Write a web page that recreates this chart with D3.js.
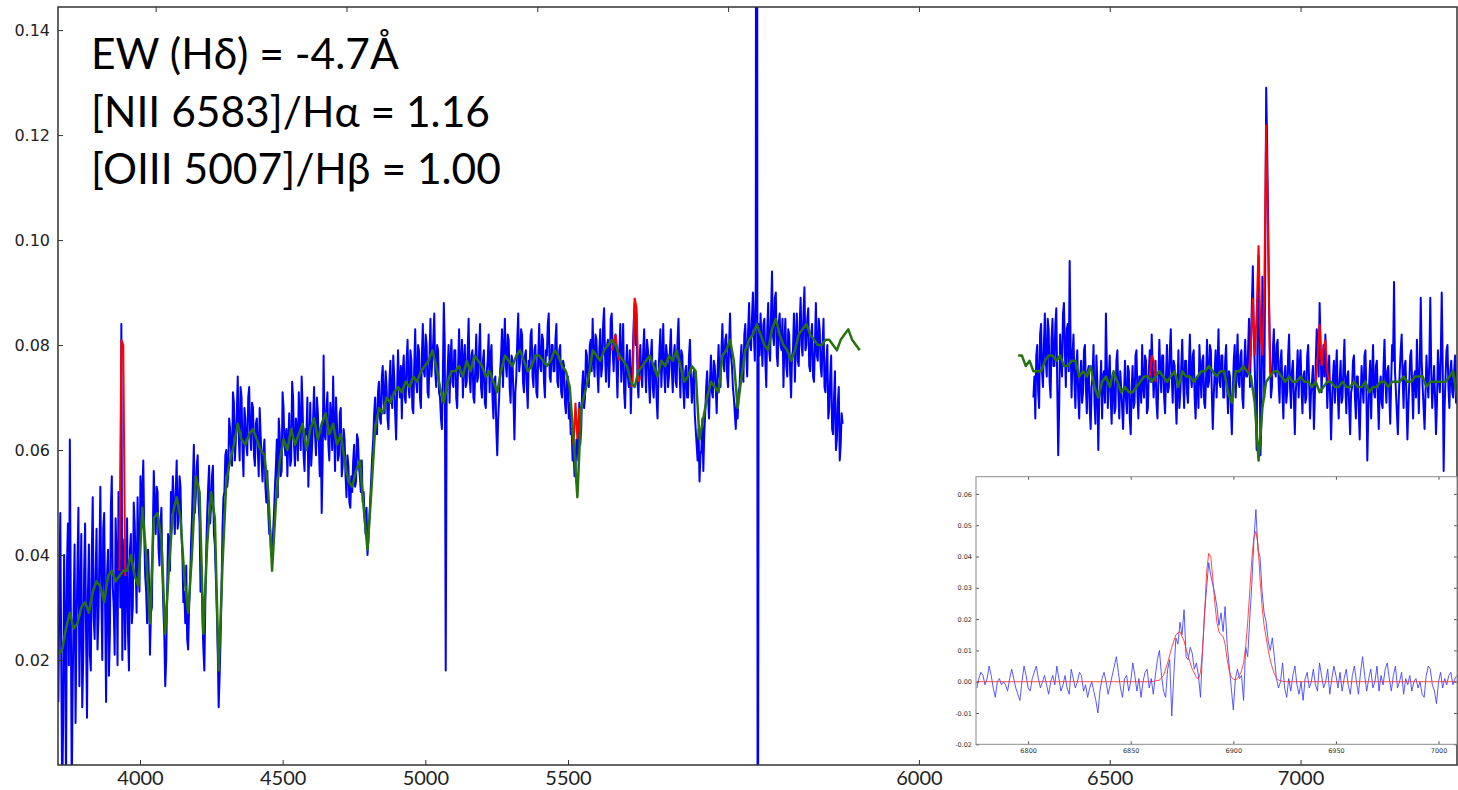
<!DOCTYPE html>
<html>
<head>
<meta charset="utf-8">
<script src="https://cdn.jsdelivr.net/npm/d3@7"></script>
<style>
  body { margin: 0; background: #fff; }
  svg { display: block; }
</style>
</head>
<body>
<div id="chart"></div>
<script>
// flux values are in units of 1e-3 (0.08 -> 80)

// observed spectrum, blue side (3745 .. 5800 A, 2.5 A grid)
const blueStartA = 3745, blueStep = 2.5;
const blueA = [
  12,33,48,20,-6,8,40,27,-4,38,46,19,62,31,-5,15,30,42,8,26,38,49,15,30,44,11,20,37,46,25,9,33,42,21,18,40,51,28,24,36,
  45,22,28,40,53,33,20,45,48,30,12,36,41,17,25,49,55,34,30,21,47,39,19,52,44,30,84,20,36,43,22,34,47,25,18,41,44,27,30,50,
  46,38,29,51,40,33,55,47,52,58,44,36,33,27,41,35,21,29,30,44,56,49,44,53,52,41,38,46,49,37,30,25,15,20,33,44,42,37,52,48,
  55,49,44,52,58,45,47,55,53,44,40,31,33,27,38,24,22,30,34,42,47,54,61,48,51,57,59,50,46,33,38,28,22,18,31,41,48,53,57,46,
  49,55,57,44,42,36,30,22,11,17,24,33,45,51,52,59,60,53,55,66,64,60,57,71,69,58,62,67,74,63,58,72,70,60,55,68,66,61,59,70,
  72,63,60,69,68,59,57,65,66,60,55,68,63,58,54,60,62,53,50,56,48,44,45,40,41,44,48,53,57,62,51,66,63,55,56,71,68,61,59,64,
  55,62,67,57,58,73,70,61,57,66,64,58,71,65,60,74,68,59,56,64,63,70,53,60,69,57,61,66,72,63,59,70,67,61,55,64,48,58,78,63,
  62,68,71,61,58,69,66,60,74,64,56,70,65,58,59,67,68,55,57,64,62,55,51,59,57,50,49,55,52,58,61,53,54,63,62,57,55,52,58,50,
  52,47,44,49,40,43,47,51,55,59,62,67,70,64,63,71,73,66,65,74,76,69,67,75,72,66,64,73,77,70,68,78,74,67,62,71,79,73,70,76,
  66,75,78,70,69,77,81,72,70,79,77,68,67,76,83,73,71,80,79,70,68,78,84,75,74,82,80,71,70,78,85,74,77,81,86,75,72,80,79,71,
  70,66,64,74,88,80,18,71,75,80,69,77,81,73,72,79,79,70,68,76,83,75,74,81,70,77,80,72,73,79,85,74,71,78,79,70,69,76,82,73,
  74,79,84,72,70,77,79,69,68,75,77,82,71,78,80,70,66,73,74,64,59,66,70,75,78,83,72,79,85,76,74,82,81,72,69,78,77,70,62,71,
  74,81,86,75,77,83,82,73,71,78,79,72,68,77,76,82,83,74,72,79,80,71,70,78,84,76,75,82,81,73,70,79,78,84,86,74,73,80,80,75,
  75,81,84,73,72,79,80,71,70,77,76,69,67,73,74,66,69,63,64,58,60,55,56,62,62,58,69,61,64,72,75,68,70,79,78,73,72,80,81,75,
  85,77,74,82,81,75,71,79,83,74,76,84,87,78,73,80,81,72,77,85,86,79,75,81,82,76,70,78,79,84,73,77,84,71,68,76,80,74,72,79,
  67,74,78,84,88,80,86,73,70,77,80,74,72,79,83,76,71,81,79,73,69,78,81,72,70,76,77,70,66,74,79,83,72,77,84,75,71,80,78,72,
  74,79,83,75,71,78,80,73,72,81,85,76,70,79,78,72,68,75,76,70,70,78,81,74,69,73,75,67,64,61,58,64,54,59,60,66,56,63,67,72,
  75,70,66,73,78,71,70,77,76,72,67,75,80,74,72,79,84,77,75,81,82,74,72,80,86,78,76,72,70,67,64,69,66,71,72,77,80,75,73,82,
  84,78,74,83,88,80,79,85,90,82,77,92,400,-80,84,78,86,81,76,84,85,77,72,83,88,79,77,86,94,82,80,89,90,78,76,84,86,80,79,85,
  72,80,85,76,74,83,82,75,70,78,79,86,73,81,86,77,76,84,89,80,78,86,91,79,80,85,87,76,75,82,84,74,73,80,88,78,77,85,83,76,
  74,80,85,72,71,77,80,66,68,74,78,64,63,70,75,60,62,69,72,58,61,67,65
];

// observed spectrum, red side (6300 .. 7410 A, 2.5 A grid)
const blueStartB = 6300;
const blueB = [
  70,74,66,78,80,71,68,82,84,75,72,80,86,77,74,85,83,73,70,81,85,76,76,84,87,72,59,68,82,77,74,86,88,79,72,83,84,75,96,80,
  70,78,82,73,68,76,79,70,66,74,77,69,71,79,80,72,67,75,76,68,64,72,74,80,69,65,78,73,60,70,72,77,66,74,75,69,86,76,68,74,
  78,70,65,73,74,67,68,77,79,71,66,75,72,68,64,71,77,70,67,76,75,66,63,72,76,68,69,78,79,71,66,74,74,69,80,72,70,78,77,67,
  68,75,79,73,82,76,70,74,77,69,66,73,81,75,71,78,78,70,67,74,80,71,72,79,83,74,69,77,76,70,65,72,79,68,71,76,81,73,68,77,
  77,71,69,76,82,74,72,78,79,70,66,73,74,68,80,75,70,77,78,69,68,74,81,72,73,80,79,71,64,70,75,79,70,76,83,73,72,78,78,70,
  70,77,80,72,67,75,74,68,63,71,77,80,70,76,82,73,72,78,79,70,68,76,81,74,74,79,85,72,80,88,95,82,76,68,60,85,97,80,59,66,
  93,84,70,96,129,118,104,88,78,70,72,79,83,75,74,80,81,73,69,77,79,71,66,74,76,69,71,78,82,72,68,75,77,70,63,71,74,79,70,76,
  79,72,67,74,75,69,70,78,80,73,66,71,73,76,64,70,77,83,79,74,88,80,71,76,80,74,82,77,68,73,78,70,62,69,74,77,69,75,79,71,
  66,73,77,69,70,76,81,72,67,74,75,68,63,71,72,77,78,70,66,74,74,68,62,70,76,72,69,78,79,71,58,67,73,77,66,74,80,71,70,76,
  77,70,64,72,74,69,68,76,81,73,69,75,76,71,65,73,80,77,92,75,71,67,63,70,75,79,82,74,68,76,77,70,62,68,73,78,79,72,66,74,
  75,70,81,74,67,76,89,77,72,68,64,71,78,73,70,77,89,75,68,72,76,70,63,69,79,74,71,78,90,76,56,68,74,79,80,72,68,75,77,71,
  70,75,78,69,72
];

// stellar continuum model (10 A grid)
const greenStartA = 3745, greenStep = 10;
const greenA = [
  21,22,26,29,26,27,30,31,29,33,
  35,34,31,36,37,35,36,37,37,40,
  36,34,49,40,27,47,48,43,25,38,
  48,51,47,36,29,40,55,52,25,42,
  52,47,18,38,54,58,61,65,62,61,
  63,64,62,60,59,52,37,50,58,62,
  60,64,61,63,65,60,64,66,62,65,
  67,63,65,61,63,58,54,53,56,58,
  49,41,52,64,68,67,70,69,71,72,
  71,73,72,74,73,75,76,77,79,76,
  72,69,73,75,75,76,74,77,75,78,
  77,76,74,75,73,71,75,78,77,76,
  78,79,77,75,76,78,78,77,76,77,
  79,78,76,75,72,62,51,68,71,74,
  79,78,77,79,80,81,80,78,77,76,
  73,72,75,76,77,78,76,74,77,76,
  78,77,79,76,73,74,76,75,62,66,
  70,73,72,71,78,79,81,77,68,74,
  79,81,82,84,82,80,79,83,85,82,
  80,79,77,79,82,83,84,82,81,80,
  80,81,81,80,79,81,82,83,81,80,79
];
const greenStartB = 6260;
const greenB = [
  78,78,76,77,75,75,75,77,78,78,
  77,78,76,76,77,77,74,75,74,76,
  72,70,73,74,72,75,73,71,72,71,
  71,72,73,74,74,73,74,75,74,73,
  74,75,72,75,74,74,73,74,75,75,
  76,75,74,75,75,71,69,75,75,76,
  75,74,69,58,68,73,74,75,75,74,
  73,74,73,73,74,73,73,72,73,71,
  72,73,73,72,72,73,72,72,73,72,
  72,73,71,72,72,73,73,72,73,73,
  73,74,73,73,74,74,74,72,73,73,
  73,73,73,74,75,70
];

// emission line fits drawn over the spectrum
const emissionLines = [
  { name: "[OII] 3727",  wave: [3905,3910,3915,3920], flux: [37,81,80,36] },
  { name: "Hb",          wave: [5090,5095,5100,5105,5110,5115], flux: [64,61,69,62,68,66] },
  { name: "[OIII] 4959", wave: [5195,5200,5205,5210,5215], flux: [79,80,82,79,77] },
  { name: "[OIII] 5007", wave: [5245,5250,5255,5260,5265,5270], flux: [72,73,89,87,73,74] },
  { name: "[OI] 6300",   wave: [6605,6610,6615,6620], flux: [74,78,77,73] },
  { name: "Ha+[NII]",    wave: [6860,6865,6870,6875,6880,6885,6890,6895,6900,6905,6910,6915,6920,6925],
                         flux: [75,75,80,89,78,86,99,82,78,90,122,100,75,74] },
  { name: "[SII]",       wave: [7040,7045,7050,7055,7060,7065,7070,7075], flux: [73,78,84,76,79,81,75,73] }
];

// inset: continuum-subtracted Ha region (1 A grid)
const insetStart = 6775, insetStep = 1;
const insetBlue = [
  -2,1,3,2,-1,1,5,2,-2,-5,0,1,-1,0,-1,-3,1,4,1,-2,-4,-6,0,5,2,
  -2,-3,1,3,5,1,-2,0,2,-1,-4,0,2,-1,5,1,-3,-1,2,-2,-4,4,1,-2,0,
  3,2,-3,-1,-5,-2,0,-3,-6,-10,-3,1,3,0,-4,-1,2,5,8,3,-2,-5,1,2,-3,
  0,6,2,-3,1,-5,0,3,4,-2,1,-4,2,7,10,2,-3,-5,4,7,-11,2,14,12,19,
  15,23,8,7,11,9,4,6,2,-5,10,22,30,38,34,31,28,24,18,22,16,24,12,5,-2,
  -9,1,4,1,2,-6,11,8,20,31,45,55,42,40,29,22,19,13,10,14,8,1,-2,0,6,
  -2,-5,1,-3,2,5,-1,-4,0,-6,1,3,-2,0,4,-1,-3,6,2,-2,0,4,-4,1,5,
  2,-2,3,-3,1,4,-1,-4,2,5,0,-4,3,8,2,-3,1,4,-2,0,5,-3,2,-1,4,
  6,1,-3,2,5,-2,0,3,-4,1,-1,2,-3,0,1,-2,0,-4,-5,2,5,4,-1,-3,-7,
  0,3,-2,1,-1,2,3,-1,1,2
];
const insetFitWave = [6775,6860,6864,6866,6868,6870,6872,6874,6876,6878,6880,6882,6883,6884,6885,6886,6887,6888,6889,6890,
  6891,6892,6893,6894,6895,6896,6897,6898,6899,6900,6901,6902,6903,6904,6905,6906,6907,6908,6909,6910,
  6911,6912,6913,6914,6915,6916,6917,6918,6919,6920,6921,6922,6924,6926,7009];
const insetFitFlux = [0,0,0.5,2,6,11,15,16,13,8,4,1.5,0.8,3,10,22,35,41,40,33,
  25,19,16,15,14.5,12,7,3.5,1.5,0.8,0.6,1,2,3.5,6,11,19,29,39,46,
  48,44,33,24,18,14,10,7,4.5,2.5,1.2,0.5,0.1,0,0];

const xTickValuesLeft = [4000, 4500, 5000, 5500];
const xTickValuesRight = [6000, 6500, 7000];
const yTickValues = [20, 40, 60, 80, 100, 120, 140];
const insetXTicks = [6800, 6850, 6900, 6950, 7000];
const insetYTicks = [-20, -10, 0, 10, 20, 30, 40, 50, 60];
const annotations = ["EW (H\u03b4) = -4.7\u00c5", "[NII 6583]/H\u03b1 = 1.16", "[OIII 5007]/H\u03b2 = 1.00"];

// ---------------------------------------------------------------
const W = 1458, H = 790;
const plot = {left: 58, right: 1457, top: 7, bottom: 765};
const svg = d3.select("#chart").append("svg").attr("width", W).attr("height", H);

const x = d3.scaleLinear().domain([3744, 7410]).range([plot.left, plot.right]);
const y = d3.scaleLinear().domain([0, 144.4]).range([plot.bottom, plot.top]);
// bottom labels do not follow the data scale on the blue side
const xLabels = d3.scaleLinear()
  .domain([4000, 5500, 6000, 7000])
  .range([140, 568, x(6000), x(7000)]);

const series = (start, step, vals) => vals.map((v, i) => [start + i * step, v]);
const line = d3.line().x(d => x(d[0])).y(d => y(d[1]));

svg.append("clipPath").attr("id", "clip")
  .append("rect")
  .attr("x", plot.left).attr("y", plot.top)
  .attr("width", plot.right - plot.left).attr("height", plot.bottom - plot.top);

const g = svg.append("g").attr("clip-path", "url(#clip)");

[series(blueStartA, blueStep, blueA), series(blueStartB, blueStep, blueB)].forEach(s => {
  g.append("path").attr("d", line(s))
    .attr("fill", "none").attr("stroke", "#0000ff").attr("stroke-width", 2)
    .attr("stroke-linejoin", "round");
});

emissionLines.forEach(l => {
  g.append("path").attr("d", line(l.wave.map((w, i) => [w, l.flux[i]])))
    .attr("fill", "none").attr("stroke", "#ff0000").attr("stroke-width", 2);
});

[series(greenStartA, greenStep, greenA), series(greenStartB, greenStep, greenB)].forEach(s => {
  g.append("path").attr("d", line(s))
    .attr("fill", "none").attr("stroke", "#26720f").attr("stroke-width", 2.5)
    .attr("stroke-linejoin", "round");
});

// axes
const yAxis = svg.append("g").attr("transform", `translate(${plot.left},0)`)
  .call(d3.axisLeft(y).tickValues(yTickValues).tickSize(-5).tickPadding(8)
    .tickFormat(d => (d / 1000).toFixed(2)));
yAxis.select(".domain").remove();
yAxis.selectAll("text").attr("font-family", "DejaVu Sans").attr("font-size", 16).attr("fill", "#222");
yAxis.selectAll("line").attr("stroke", "#333");

const topAxis = svg.append("g").attr("transform", `translate(0,${plot.top})`)
  .call(d3.axisTop(x).tickValues(xTickValuesLeft.concat(xTickValuesRight)).tickSize(-5).tickFormat(""));
topAxis.select(".domain").remove();
topAxis.selectAll("line").attr("stroke", "#333");

const xAxis = svg.append("g").attr("transform", `translate(0,${plot.bottom})`)
  .call(d3.axisBottom(xLabels).tickValues(xTickValuesLeft.concat(xTickValuesRight))
    .tickSize(-5).tickPadding(6).tickFormat(d3.format("d")));
xAxis.select(".domain").remove();
xAxis.selectAll("text").attr("font-family", "Lato, 'Open Sans', sans-serif").attr("font-size", 20).attr("fill", "#222");
xAxis.selectAll("line").attr("stroke", "#333");

svg.append("rect")
  .attr("x", plot.left).attr("y", plot.top)
  .attr("width", plot.right - plot.left).attr("height", plot.bottom - plot.top)
  .attr("fill", "none").attr("stroke", "#333").attr("stroke-width", 1.5);

// annotation
svg.append("g").selectAll("text").data(annotations).join("text")
  .attr("x", 91).attr("y", (d, i) => 69 + i * 57.5)
  .attr("font-family", "Lato, 'Open Sans', sans-serif").attr("font-size", 42.5)
  .attr("fill", "#000")
  .text(d => d);

// inset
const inset = {left: 976, right: 1457, top: 476.7, bottom: 744.3};
const xi = d3.scaleLinear().domain([6774.6, 7009]).range([inset.left, inset.right]);
const yi = d3.scaleLinear().domain([-20, 65.5]).range([inset.bottom, inset.top]);
const lineI = d3.line().x(d => xi(d[0])).y(d => yi(d[1]));

const gi = svg.append("g");
gi.append("rect")
  .attr("x", inset.left).attr("y", inset.top)
  .attr("width", inset.right - inset.left).attr("height", inset.bottom - inset.top)
  .attr("fill", "#fff");
gi.append("path").attr("d", lineI(series(insetStart, insetStep, insetBlue)))
  .attr("fill", "none").attr("stroke", "#3c3cff").attr("stroke-width", 1).attr("stroke-opacity", 0.85);
gi.append("path").attr("d", lineI(insetFitWave.map((w, i) => [w, insetFitFlux[i]])))
  .attr("fill", "none").attr("stroke", "#ff2a2a").attr("stroke-width", 1).attr("stroke-opacity", 0.85);

const styleInset = sel => {
  sel.select(".domain").remove();
  sel.selectAll("text").attr("font-family", "DejaVu Sans").attr("font-size", 6.5).attr("fill", "#333");
  sel.selectAll("line").attr("stroke", "#555");
};
gi.append("g").attr("transform", `translate(0,${inset.bottom})`)
  .call(d3.axisBottom(xi).tickValues(insetXTicks).tickSize(-3).tickPadding(4).tickFormat(d3.format("d")))
  .call(styleInset);
gi.append("g").attr("transform", `translate(0,${inset.top})`)
  .call(d3.axisTop(xi).tickValues(insetXTicks).tickSize(-3).tickFormat(""))
  .call(styleInset);
gi.append("g").attr("transform", `translate(${inset.left},0)`)
  .call(d3.axisLeft(yi).tickValues(insetYTicks).tickSize(-3).tickPadding(4).tickFormat(d => (d / 1000).toFixed(2)))
  .call(styleInset);
gi.append("g").attr("transform", `translate(${inset.right},0)`)
  .call(d3.axisRight(yi).tickValues(insetYTicks).tickSize(-3).tickFormat(""))
  .call(styleInset);
gi.append("rect")
  .attr("x", inset.left).attr("y", inset.top)
  .attr("width", inset.right - inset.left).attr("height", inset.bottom - inset.top)
  .attr("fill", "none").attr("stroke", "#8a8a8a").attr("stroke-width", 1);
</script>
</body>
</html>
